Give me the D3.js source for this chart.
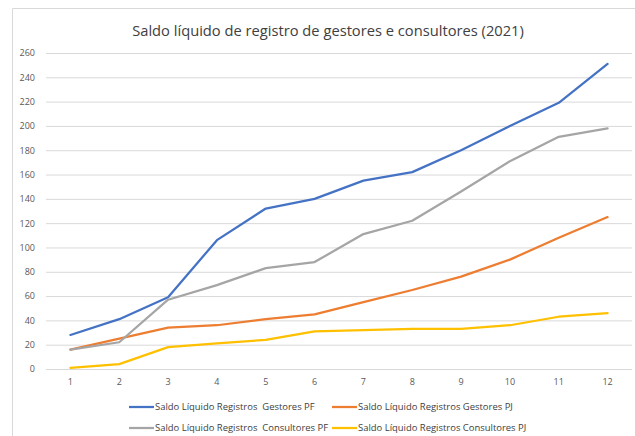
<!DOCTYPE html>
<html><head><meta charset="utf-8">
<script src="https://cdn.jsdelivr.net/npm/d3@7"></script>
<style>
html,body{margin:0;padding:0;background:#fff;}
svg{display:block;}
text{font-family:"Open Sans","Noto Sans",sans-serif;}
</style></head>
<body>
<svg id="chart" width="635" height="436"></svg>
<script>
const title = "Saldo líquido de registro de gestores e consultores (2021)";
const months = [1,2,3,4,5,6,7,8,9,10,11,12];
const yTicks = [0,20,40,60,80,100,120,140,160,180,200,220,240,260];
const gestoresPF = [28,41,59,106,132,140,155,162,180,200,219,251];
const gestoresPJ = [16,25,34,36,41,45,55,65,76,90,108,125];
const consultoresPF = [16,22,57,69,83,88,111,122,146,171,191,198];
const consultoresPJ = [1,4,18,21,24,31,32,33,33,36,43,46];
const seriesNames = [
  "Saldo Líquido Registros  Gestores PF",
  "Saldo Líquido Registros Gestores PJ",
  "Saldo Líquido Registros  Consultores PF",
  "Saldo Líquido Registros Consultores PJ"
];
const colors = ["#4472C4","#ED7D31","#A5A5A5","#FFC000"];

const series = [
  {name: seriesNames[0], values: gestoresPF, color: colors[0]},
  {name: seriesNames[1], values: gestoresPJ, color: colors[1]},
  {name: seriesNames[2], values: consultoresPF, color: colors[2]},
  {name: seriesNames[3], values: consultoresPJ, color: colors[3]}
];

const svg = d3.select("#chart");
svg.append("path").attr("d","M12.5,436 V8.5 H635").attr("fill","none").attr("stroke","#d9d9d9").attr("stroke-width",1);

const plot = {left:46, right:632, top:53, bottom:369};
const x = d3.scaleBand().domain(months).range([plot.left, plot.right]);
const y = d3.scaleLinear().domain([0,260]).range([plot.bottom, plot.top]);

const t = svg.append("text").attr("x",(132+524)/2).attr("y",36).attr("text-anchor","middle")
  .attr("font-size",15).attr("fill","#404040").text(title);
const tw = t.node().getComputedTextLength();
t.attr("font-size", 15*392/tw);

const yAxis = d3.axisLeft(y).tickValues(yTicks).tickSize(-(plot.right-plot.left)).tickPadding(11);
const gy = svg.append("g").attr("transform",`translate(${plot.left},0)`).call(yAxis);
gy.select(".domain").remove();
gy.selectAll(".tick line").attr("stroke","#d9d9d9").attr("stroke-width",1);
gy.selectAll(".tick text").attr("fill","#595959").attr("font-size",9).attr("font-family","'Open Sans',sans-serif");

const xAxis = d3.axisBottom(x).tickSize(0).tickPadding(10);
const gx = svg.append("g").attr("transform",`translate(0,${plot.bottom})`).call(xAxis);
gx.select(".domain").remove();
gx.selectAll(".tick text").attr("fill","#595959").attr("font-size",9).attr("font-family","'Open Sans',sans-serif");

const line = d3.line().x((d,i)=>x(months[i])+x.bandwidth()/2).y(d=>y(d));
svg.append("g").selectAll("path").data(series).join("path")
  .attr("d", d=>line(d.values)).attr("fill","none").attr("stroke",d=>d.color)
  .attr("stroke-width",2.25).attr("stroke-linejoin","round").attr("stroke-linecap","round");

const legendPos = [
  {lx:129, ly:407}, {lx:332, ly:407}, {lx:129, ly:428}, {lx:332, ly:428}
];
const leg = svg.append("g").selectAll("g").data(series).join("g")
  .attr("transform",(d,i)=>`translate(${legendPos[i].lx},${legendPos[i].ly})`);
leg.append("line").attr("x1",0).attr("x2",25).attr("y1",0).attr("y2",0)
  .attr("stroke",d=>d.color).attr("stroke-width",2.25);
const lt = leg.append("text").attr("x",26).attr("y",3.3).attr("font-size",9).attr("fill","#404040")
  .style("white-space","pre").text(d=>d.name);
const w0 = lt.nodes()[0].getComputedTextLength();
lt.attr("font-size", 9*160/w0);
</script>
</body></html>
